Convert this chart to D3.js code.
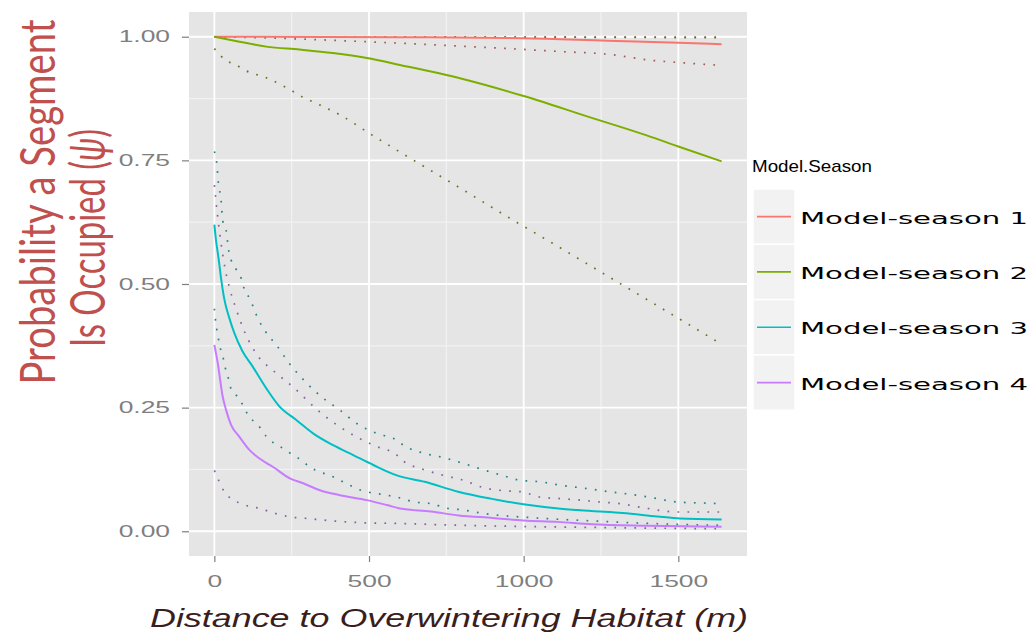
<!DOCTYPE html>
<html>
<head>
<meta charset="utf-8">
<script src="https://cdn.jsdelivr.net/npm/d3@7"></script>
<style>
  body { margin: 0; background: #fff; }
  svg { display: block; }
</style>
</head>
<body>
<div id="chart"></div>
<script>
/*-------------------- Données -------------------*/

var seasons = ["Model-season 1", "Model-season 2", "Model-season 3", "Model-season 4"];
var colours = ["#F8766D", "#7CAE00", "#00BFC4", "#C77CFF"];
var xTicks = [0, 500, 1000, 1500];
var yTicks = [0, 0.25, 0.5, 0.75, 1];

// [distance (m), probabilité]
var s1Mean  = [[0,1.0],[600,0.999],[1000,0.997],[1270,0.992],[1500,0.988],[1640,0.985]];
var s1Upper = [[0,1.0],[1640,0.999]];
var s1Lower = [[0,1.0],[200,0.997],[450,0.991],[700,0.984],[950,0.976],[1120,0.970],[1282,0.964],[1402,0.953],[1499,0.948],[1640,0.942]];

var s2Mean  = [[0,1.0],[81,0.99],[168,0.98],[276,0.974],[383,0.967],[493,0.957],[600,0.943],[800,0.915],[1000,0.88],[1200,0.84],[1400,0.80],[1500,0.778],[1640,0.748]];
var s2Upper = [[0,1.0],[800,0.9995],[1640,0.998]];
var s2Lower = [[0,0.976],[38,0.952],[70,0.943],[103,0.931],[168,0.917],[233,0.897],[286,0.878],[341,0.862],[406,0.842],[500,0.805],[650,0.748],[800,0.692],[950,0.635],[1100,0.580],[1250,0.524],[1400,0.468],[1550,0.412],[1640,0.378]];

var s3Mean  = [[0,0.62],[5,0.59],[14,0.55],[22,0.51],[32,0.47],[49,0.43],[65,0.40],[90,0.365],[124,0.333],[168,0.289],[211,0.252],[265,0.225],[319,0.198],[384,0.174],[449,0.154],[514,0.134],[590,0.113],[680,0.100],[788,0.08],[893,0.066],[1005,0.054],[1112,0.046],[1220,0.041],[1320,0.037],[1432,0.030],[1506,0.026],[1640,0.024]];
var s3Upper = [[0,0.768],[7,0.748],[13,0.705],[22,0.667],[27,0.628],[38,0.609],[46,0.569],[54,0.549],[70,0.53],[87,0.511],[97,0.489],[114,0.471],[141,0.43],[173,0.397],[200,0.377],[238,0.343],[287,0.307],[352,0.269],[406,0.245],[460,0.218],[525,0.198],[590,0.184],[611,0.174],[676,0.158],[741,0.149],[801,0.138],[866,0.125],[931,0.113],[990,0.103],[1055,0.10],[1120,0.093],[1185,0.088],[1277,0.08],[1342,0.075],[1407,0.069],[1499,0.059],[1623,0.056],[1640,0.055]];
var s3Lower = [[0,0.45],[5,0.42],[10,0.40],[16,0.38],[22,0.363],[32,0.342],[38,0.322],[49,0.302],[54,0.287],[81,0.268],[92,0.255],[111,0.233],[141,0.215],[168,0.192],[195,0.177],[227,0.166],[254,0.154],[282,0.144],[308,0.130],[341,0.12],[373,0.113],[406,0.103],[438,0.093],[460,0.086],[493,0.080],[558,0.073],[590,0.069],[649,0.059],[709,0.055],[741,0.048],[806,0.043],[871,0.036],[925,0.032],[990,0.029],[1120,0.024],[1185,0.022],[1400,0.016],[1640,0.012]];

var s4Mean  = [[0,0.377],[11,0.34],[27,0.272],[38,0.245],[54,0.215],[81,0.191],[114,0.164],[146,0.147],[190,0.13],[244,0.107],[287,0.097],[341,0.083],[406,0.073],[493,0.063],[558,0.053],[600,0.046],[700,0.040],[790,0.032],[900,0.027],[1000,0.022],[1110,0.019],[1220,0.014],[1400,0.011],[1640,0.009]];
var s4Upper = [[0,0.70],[10,0.64],[20,0.59],[35,0.53],[50,0.49],[70,0.45],[100,0.40],[140,0.355],[190,0.325],[254,0.292],[341,0.241],[406,0.211],[514,0.174],[590,0.154],[611,0.142],[676,0.125],[741,0.113],[806,0.103],[871,0.088],[936,0.082],[990,0.080],[1055,0.069],[1120,0.066],[1185,0.063],[1250,0.059],[1310,0.056],[1374,0.049],[1499,0.039],[1640,0.039]];
var s4Lower = [[0,0.123],[16,0.10],[32,0.08],[54,0.066],[87,0.056],[119,0.049],[152,0.046],[179,0.039],[211,0.034],[244,0.029],[298,0.026],[363,0.022],[428,0.019],[493,0.017],[579,0.016],[800,0.012],[1200,0.008],[1640,0.005]];

var means  = [s1Mean, s2Mean, s3Mean, s4Mean];
var uppers = [s1Upper, s2Upper, s3Upper, s4Upper];
var lowers = [s1Lower, s2Lower, s3Lower, s4Lower];

/*-------------------- Mise en page -------------------*/

var W = 1035, H = 639;
var panel = {left: 189, right: 747, top: 12, bottom: 556};

var xMax = 1640;
var xScale = d3.scaleLinear()
    .domain([-0.05 * xMax, 1.05 * xMax])
    .range([panel.left, panel.right]);
var yScale = d3.scaleLinear()
    .domain([-0.05, 1.05])
    .range([panel.bottom, panel.top]);

var svg = d3.select("#chart").append("svg")
    .attr("width", W)
    .attr("height", H);

// l'image d'origine est étirée horizontalement : on étire les textes pareil
function stretch(sel, k) {
    sel.each(function() {
        var w = this.getComputedTextLength();
        d3.select(this)
            .attr("textLength", w * k)
            .attr("lengthAdjust", "spacingAndGlyphs");
    });
}

// fond du panneau
svg.append("rect")
    .attr("x", panel.left)
    .attr("y", panel.top)
    .attr("width", panel.right - panel.left)
    .attr("height", panel.bottom - panel.top)
    .style("fill", "#E5E5E5");

var grid = svg.append("g");

// grille mineure
grid.selectAll("line.xminor")
    .data([250, 750, 1250])
    .enter().append("line")
    .attr("x1", d => xScale(d)).attr("x2", d => xScale(d))
    .attr("y1", panel.top).attr("y2", panel.bottom)
    .style("stroke", "#F2F2F2").style("stroke-width", 1.2);

grid.selectAll("line.yminor")
    .data([0.125, 0.375, 0.625, 0.875])
    .enter().append("line")
    .attr("y1", d => yScale(d)).attr("y2", d => yScale(d))
    .attr("x1", panel.left).attr("x2", panel.right)
    .style("stroke", "#F2F2F2").style("stroke-width", 1.2);

// grille majeure
grid.selectAll("line.xmajor")
    .data(xTicks)
    .enter().append("line")
    .attr("x1", d => xScale(d)).attr("x2", d => xScale(d))
    .attr("y1", panel.top).attr("y2", panel.bottom)
    .style("stroke", "#FFFFFF").style("stroke-width", 1.8);

grid.selectAll("line.ymajor")
    .data(yTicks)
    .enter().append("line")
    .attr("y1", d => yScale(d)).attr("y2", d => yScale(d))
    .attr("x1", panel.left).attr("x2", panel.right)
    .style("stroke", "#FFFFFF").style("stroke-width", 1.8);

/*-------------------- Courbes -------------------*/

var line = d3.line()
    .x(d => xScale(d[0]))
    .y(d => yScale(d[1]))
    .curve(d3.curveMonotoneX);

var curves = svg.append("g");

seasons.forEach(function(s, i) {
    var dotColour = d3.interpolateRgb(colours[i], "#444444")(0.5);
    [uppers[i], lowers[i]].forEach(function(band) {
        curves.append("path")
            .datum(band)
            .attr("d", line)
            .style("fill", "none")
            .style("stroke", dotColour)
            .style("stroke-width", 1.7)
            .style("stroke-dasharray", "1.7,8.3");
    });
});

seasons.forEach(function(s, i) {
    curves.append("path")
        .datum(means[i])
        .attr("d", line)
        .style("fill", "none")
        .style("stroke", colours[i])
        .style("stroke-width", 2);
});

/*-------------------- Axes -------------------*/

var yAxis = svg.append("g")
    .attr("transform", "translate(" + panel.left + ",0)")
    .call(d3.axisLeft(yScale).tickValues(yTicks).tickFormat(d3.format(".2f"))
        .tickSize(7).tickPadding(12));

var xAxis = svg.append("g")
    .attr("transform", "translate(0," + panel.bottom + ")")
    .call(d3.axisBottom(xScale).tickValues(xTicks).tickFormat(d3.format("d"))
        .tickSize(6).tickPadding(14));

[yAxis, xAxis].forEach(function(ax) {
    ax.select(".domain").remove();
    ax.selectAll(".tick line").style("stroke", "#7F7F7F").style("stroke-width", 1.2);
    ax.selectAll(".tick text")
        .style("fill", "#7F7F7F")
        .style("font-family", "'Liberation Sans', Arial, sans-serif")
        .style("font-size", "16px");
    stretch(ax.selectAll(".tick text"), 1.65);
});

// titre de l'axe x
var xTitle = svg.append("text")
    .attr("x", 449)
    .attr("y", 627)
    .style("text-anchor", "middle")
    .style("font-family", "'Liberation Sans', Arial, sans-serif")
    .style("font-style", "italic")
    .style("font-size", "25px")
    .style("fill", "#3A1E1E")
    .text("Distance to Overwintering Habitat (m)");
xTitle.attr("textLength", 598).attr("lengthAdjust", "spacingAndGlyphs");

// titre de l'axe y (deux lignes), glyphes élargis comme sur l'original
var yTitle1 = svg.append("text")
    .attr("transform", "translate(55,202) scale(1.4,1) rotate(-90)")
    .style("text-anchor", "middle")
    .style("font-family", "Lato, 'Open Sans', sans-serif")
    .style("font-size", "34px")
    .style("fill", "#C0504D")
    .attr("textLength", 365)
    .attr("lengthAdjust", "spacingAndGlyphs")
    .text("Probability a Segment");

var yTitle2 = svg.append("text")
    .attr("transform", "translate(105,238) scale(1.4,1) rotate(-90)")
    .style("text-anchor", "middle")
    .style("font-family", "Lato, 'Open Sans', sans-serif")
    .style("font-size", "34px")
    .style("fill", "#C0504D")
    .attr("textLength", 218)
    .attr("lengthAdjust", "spacingAndGlyphs");
yTitle2.append("tspan").text("Is Occupied (");
yTitle2.append("tspan").style("font-style", "italic").text("ψ");
yTitle2.append("tspan").text(")");

/*-------------------- Légende -------------------*/

var legend = svg.append("g").attr("class", "legend");

var legendTitle = legend.append("text")
    .attr("x", 752)
    .attr("y", 172)
    .style("font-family", "'Liberation Sans', Arial, sans-serif")
    .style("font-size", "17px")
    .style("fill", "#000")
    .text("Model.Season");
legendTitle.attr("textLength", 120).attr("lengthAdjust", "spacingAndGlyphs");

var keyTop = 189, keyH = 55.3, keyX = 753, keyW = 42;

var keys = legend.selectAll("g.key")
    .data(seasons)
    .enter().append("g")
    .attr("class", "key")
    .attr("transform", (d, i) => "translate(0," + (keyTop + i * keyH) + ")");

keys.append("rect")
    .attr("x", keyX)
    .attr("y", 0)
    .attr("width", keyW)
    .attr("height", keyH)
    .style("fill", "#F2F2F2")
    .style("stroke", "#FFFFFF")
    .style("stroke-width", 1.5);

keys.append("line")
    .attr("x1", keyX + 4)
    .attr("x2", keyX + keyW - 4)
    .attr("y1", keyH / 2)
    .attr("y2", keyH / 2)
    .style("stroke", (d, i) => colours[i])
    .style("stroke-width", 1.7);

var keyLabels = keys.append("text")
    .attr("x", 800)
    .attr("y", keyH / 2 + 7)
    .style("font-family", "'DejaVu Sans', Verdana, sans-serif")
    .style("font-size", "16px")
    .style("fill", "#000")
    .text(d => d);
keyLabels.attr("textLength", 228).attr("lengthAdjust", "spacingAndGlyphs");
</script>
</body>
</html>
